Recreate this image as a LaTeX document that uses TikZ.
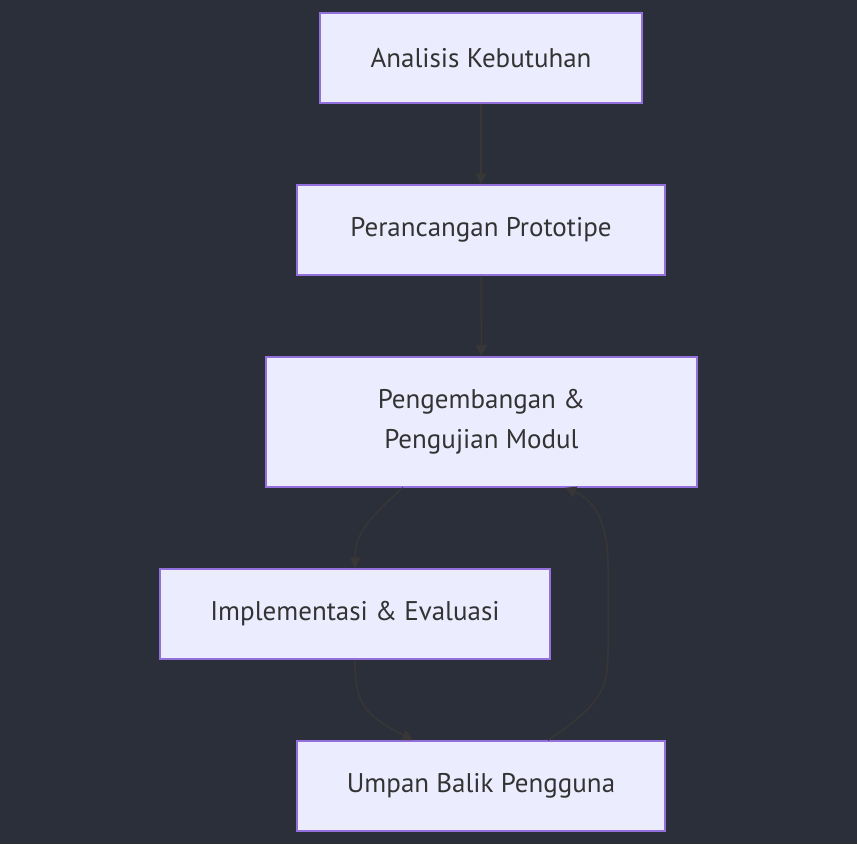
\documentclass[tikz,border=0pt]{standalone}
\usepackage{fontspec}
\setmainfont{PT Sans}
\usetikzlibrary{arrows.meta}
\definecolor{fondbg}{RGB}{43,47,58}
\definecolor{boitefill}{RGB}{236,236,255}
\definecolor{boitebord}{RGB}{147,112,219}
\definecolor{trait}{RGB}{56,54,54}
\definecolor{texte}{RGB}{51,51,51}
\begin{document}
\begin{tikzpicture}[x=1pt, y=-1pt]
\tikzset{etape/.style={draw=boitebord, fill=boitefill, line width=1.5pt, minimum height=90pt, text=texte, align=center, font=\fontsize{27}{40}\selectfont},
  fleche/.style={draw=trait, line width=1.5pt, -{Triangle[length=11pt,width=11pt]}}}
\fill[fondbg] (0,0) rectangle (857,844);
\node[etape, minimum width=322pt] (A) at (481,58) {Analisis Kebutuhan};
\node[etape, minimum width=368pt] (B) at (481,230) {Perancangan Prototipe};
\node[etape, minimum width=431pt, minimum height=130pt] (C) at (481.5,422) {Pengembangan \&\\ Pengujian Modul};
\node[etape, minimum width=390pt] (D) at (355,614) {Implementasi \& Evaluasi};
\node[etape, minimum width=368pt] (E) at (481,786) {Umpan Balik Pengguna};
\draw[fleche] (A) -- (B);
\draw[fleche] (B) -- (C);
\draw[fleche] ([xshift=-78.5pt]C.south) .. controls (360,525) and (355,540) .. (D.north);
\draw[fleche] (D.south) .. controls (355,705) and (365,715) .. ([xshift=-68pt]E.north);
\draw[fleche] ([xshift=67pt]E.north) .. controls (600,705) and (608,690) .. (608,650) -- (608,565) .. controls (608,525) and (595,500) .. ([xshift=83.5pt]C.south);
\end{tikzpicture}
\end{document}
